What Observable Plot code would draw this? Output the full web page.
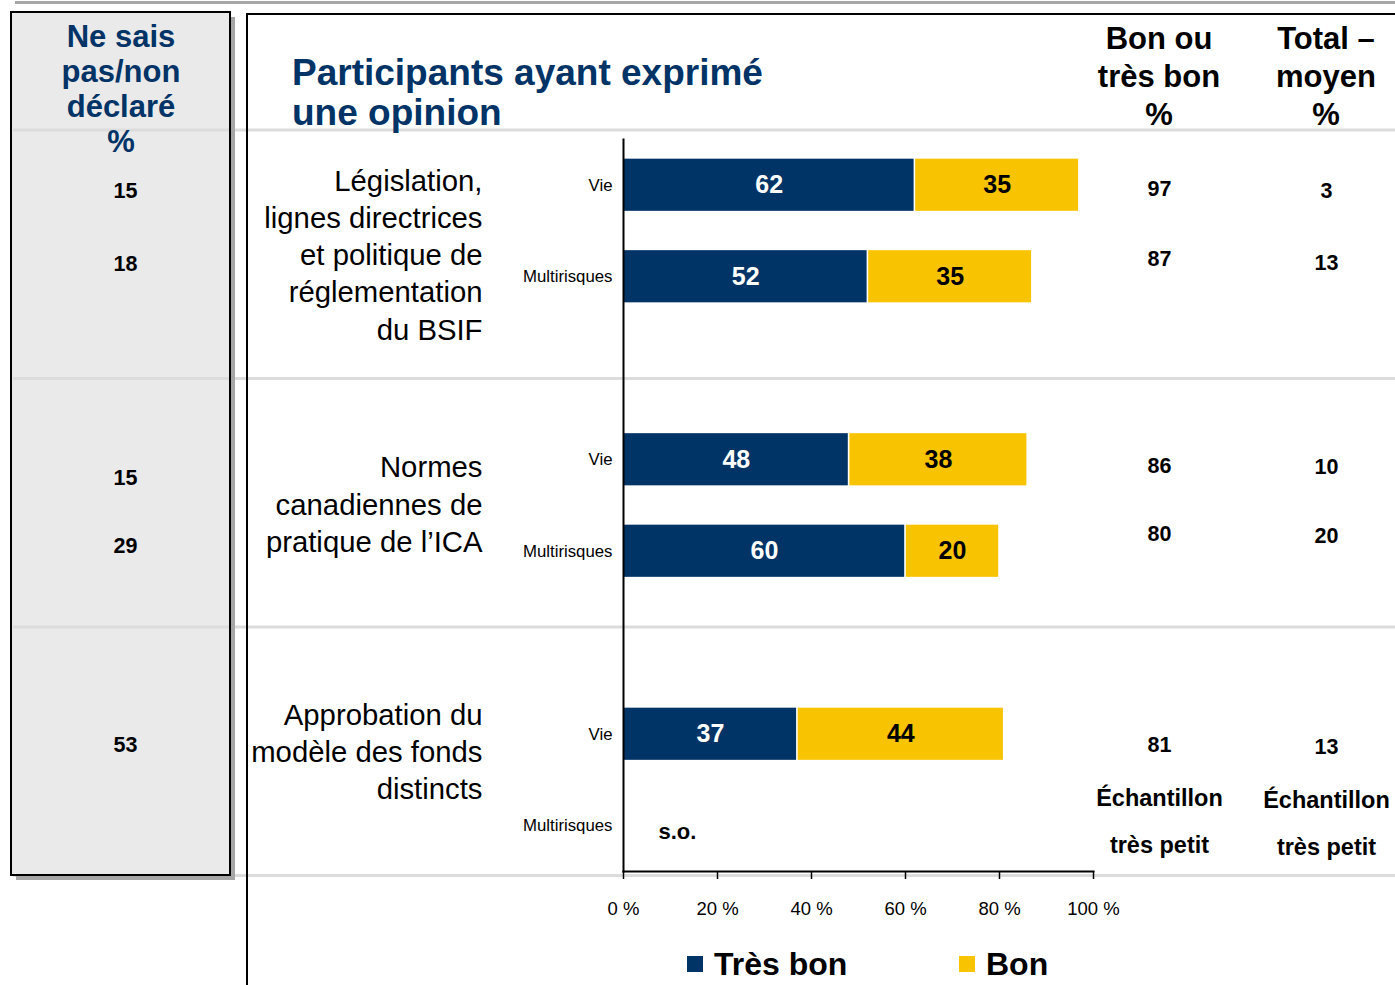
<!DOCTYPE html>
<html><head><meta charset="utf-8">
<script src="https://cdn.jsdelivr.net/npm/d3@7"></script>
<script src="https://cdn.jsdelivr.net/npm/@observablehq/plot@0.6"></script>
<style>
body{margin:0;background:#fff;font-family:"Liberation Sans",Arial,sans-serif;}
#wrap{position:relative;width:1395px;height:985px;overflow:hidden;}
#wrap > *{position:absolute;}
.hdr{font-weight:bold;font-size:31px;line-height:37px;text-align:center;white-space:pre;}
</style></head><body><div id="wrap"></div>
<script>
// ---------- data ----------
const categories = [
  "Législation,\nlignes directrices\net politique de\nréglementation\ndu BSIF",
  "Normes\ncanadiennes de\npratique de l’ICA",
  "Approbation du\nmodèle des fonds\ndistincts"
];
const types = ["Vie", "Multirisques"];
const tresBon = [62, 52, 48, 60, 37, null];
const bon     = [35, 35, 38, 20, 44, null];
const bonOuTresBon = ["97", "87", "86", "80", "81", "Échantillon\ntrès petit"];
const totalMoyen   = ["3", "13", "10", "20", "13", "Échantillon\ntrès petit"];
const neSaisPas    = ["15", "18", "15", "29", "53", ""];
const noData = "s.o.";
const tickValues = [0, 20, 40, 60, 80, 100];
const seriesNames = ["Très bon", "Bon"];
const colors = ["#003366", "#F8C300"];
const titleText = "Participants ayant exprimé\nune opinion";
const hdrNeSais = "Ne sais\npas/non\ndéclaré\n%";
const hdrBon = "Bon ou\ntrès bon\n%";
const hdrTotal = "Total –\nmoyen\n%";

// ---------- build ----------
const rows = [];
categories.forEach((c, g) => types.forEach((t, j) => {
  const i = g * 2 + j;
  rows.push({i, g, type: t, key: `${g}-${t}`, tb: tresBon[i], b: bon[i],
             c2: bonOuTresBon[i], c3: totalMoyen[i], c1: neSaisPas[i]});
}));
const yDomain = ["0-Vie", "0-Multirisques", "gap0", "1-Vie", "1-Multirisques", "gap1", "2-Vie", "2-Multirisques"];
const segs = rows.filter(r => r.tb != null).flatMap(r => [
  {key: r.key, x1: 0, x2: r.tb, s: seriesNames[0], v: r.tb},
  {key: r.key, x1: r.tb, x2: r.tb + r.b, s: seriesNames[1], v: r.b}
]);

// layout offsets (pixels) of table cells relative to their row
const dyC1 = [6, -13, 18, -5, 11, 0];
const dyC2 = [4, -18, 6, -17, 11, -11];
const dyC3 = [6, -14, 7, -15, 13, -9];
const dyCat = [68, 43, 16];

const M = {left: 623, right: 302, top: 139, bottom: 114};
const cellMarks = [];
rows.forEach((r, k) => {
  if (r.c1) cellMarks.push(Plot.text([r], {y: "key", text: "c1", frameAnchor: "left", textAnchor: "middle", dx: 125 - M.left, dy: dyC1[k], fontSize: 21.5, fontWeight: "bold", fill: "#000"}));
  const multi = r.c2.includes("\n");
  const opt = multi ? {fontSize: 23.5, lineHeight: 1.96} : {fontSize: 21.5};
  cellMarks.push(Plot.text([r], {y: "key", text: "c2", frameAnchor: "left", textAnchor: "middle", dx: 1159 - M.left, dy: dyC2[k], fontWeight: "bold", fill: "#000", ...opt}));
  cellMarks.push(Plot.text([r], {y: "key", text: "c3", frameAnchor: "left", textAnchor: "middle", dx: 1326 - M.left, dy: dyC3[k], fontWeight: "bold", fill: "#000", ...opt}));
});
const catMarks = categories.map((c, g) => Plot.text([c], {
  y: () => `${g}-Vie`, text: d => d, frameAnchor: "left", dx: 482 - M.left, dy: dyCat[g],
  textAnchor: "end", fontSize: 29.3, lineHeight: 1.273, fill: "#000"
}));

const chart = Plot.plot({
  width: 1395, height: 985,
  marginLeft: M.left, marginRight: M.right, marginTop: M.top, marginBottom: M.bottom,
  style: {fontFamily: "'Liberation Sans', Arial, sans-serif", background: "transparent", overflow: "visible"},
  x: {domain: [0, 100]},
  y: {domain: yDomain, axis: null, paddingInner: 0.43, paddingOuter: 0.215, round: false},
  color: {domain: seriesNames, range: colors},
  marks: [
    Plot.barX(segs, {y: "key", x1: "x1", x2: "x2", fill: "s", insetLeft: 0.8, insetRight: 0.8}),
    Plot.text(segs.filter(d => d.s === seriesNames[0]), {y: "key", x: d => (d.x1 + d.x2) / 2, text: "v", fill: "white", fontWeight: "bold", fontSize: 25}),
    Plot.text(segs.filter(d => d.s === seriesNames[1]), {y: "key", x: d => (d.x1 + d.x2) / 2, text: "v", fill: "black", fontWeight: "bold", fontSize: 25}),
    Plot.text(rows.filter(r => r.tb == null), {y: "key", text: () => noData, frameAnchor: "left", dx: 35, dy: 6, textAnchor: "start", fontWeight: "bold", fontSize: 22, fill: "#000"}),
    Plot.text(rows, {y: "key", text: "type", frameAnchor: "left", dx: -11, textAnchor: "end", fontSize: 16.8, fill: "#000"}),
    ...catMarks,
    ...cellMarks,
    Plot.frame({anchor: "left", stroke: "#000", strokeWidth: 2}),
    Plot.frame({anchor: "bottom", stroke: "#000", strokeWidth: 2}),
    Plot.axisX({ticks: tickValues, tickFormat: d => `${d} %`, tickSize: 8, tickPadding: 22, fontSize: 18.5, label: null, stroke: "#000", strokeWidth: 1.5, fill: "#000"})
  ]
});

// ---------- page ----------
const wrap = document.getElementById("wrap");
const ns = "http://www.w3.org/2000/svg";
const deco = document.createElementNS(ns, "svg");
deco.setAttribute("width", 1395); deco.setAttribute("height", 985);
deco.style.left = "0px"; deco.style.top = "0px";
deco.innerHTML = `
  <rect x="15" y="1" width="1380" height="3" fill="#a6a6a6"/>
  <rect x="11" y="12" width="219" height="863" fill="#eaeaea"/>
  <g stroke="#dcdcdc" stroke-width="3">
    <line x1="13" x2="1395" y1="130" y2="130"/>
    <line x1="13" x2="1395" y1="378.5" y2="378.5"/>
    <line x1="13" x2="1395" y1="627" y2="627"/>
    <line x1="13" x2="1395" y1="875.5" y2="875.5"/>
  </g>
  <rect x="230" y="17" width="5" height="863" fill="#a6a6a6"/>
  <rect x="16" y="875" width="219" height="5" fill="#a6a6a6"/>
  <rect x="11" y="12" width="219" height="863" fill="none" stroke="#000" stroke-width="2"/>
  <line x1="247" x2="1395" y1="14" y2="14" stroke="#000" stroke-width="2"/>
  <line x1="247" x2="247" y1="13" y2="985" stroke="#000" stroke-width="2"/>
`;
wrap.appendChild(deco);
chart.style.left = "0px"; chart.style.top = "0px";
wrap.appendChild(chart);

function addDiv(text, css, cls) {
  const d = document.createElement("div");
  d.textContent = text;
  if (cls) d.className = cls;
  Object.assign(d.style, css);
  wrap.appendChild(d);
  return d;
}
addDiv(titleText, {left: "292px", top: "53px", fontSize: "37px", lineHeight: "40px", fontWeight: "bold", color: "#003366", whiteSpace: "pre"});
addDiv(hdrNeSais, {left: "11px", width: "220px", top: "19px", lineHeight: "35px", color: "#003366"}, "hdr");
addDiv(hdrBon, {left: "1059px", width: "200px", top: "20px", lineHeight: "38px", color: "#000"}, "hdr");
addDiv(hdrTotal, {left: "1226px", width: "200px", top: "20px", lineHeight: "38px", color: "#000"}, "hdr");

// legend
const legX = [687, 959];
seriesNames.forEach((s, k) => {
  addDiv("", {left: legX[k] + "px", top: "956px", width: "16px", height: "16px", background: colors[k]});
  addDiv(s, {left: (legX[k] + 27) + "px", top: "948px", fontSize: "32px", lineHeight: "32px", fontWeight: "bold", color: "#000", whiteSpace: "pre"});
});
</script>
</body></html>
